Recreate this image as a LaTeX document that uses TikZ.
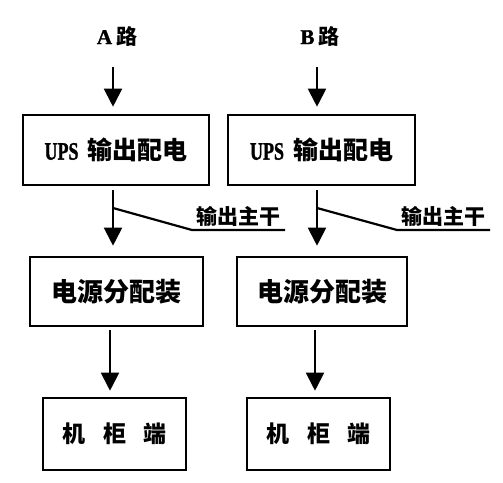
\documentclass[tikz,border=0pt]{standalone}
\usepackage{fontspec}
\setmainfont{Noto Sans CJK SC}
\newfontfamily\latinserif{Liberation Serif}
\newfontfamily\upsfont{Liberation Serif}[UprightFont=* Bold, FakeBold=1.5]
\usetikzlibrary{arrows.meta,calc}
\newcommand{\upslabel}{\scalebox{0.72}[1]{\upsfont\fontsize{25}{28}\selectfont UPS}\hspace{9pt}{\fontsize{25}{28}\selectfont 输出配电}}
\begin{document}
\begin{tikzpicture}[x=1pt,y=-1pt,
  box/.style={draw=black,line width=2.6pt,inner sep=0pt,font=\bfseries\fontsize{26}{29}\selectfont},
  arr/.style={line width=2pt,-{Triangle[width=18pt,length=18pt]}},
  head/.style={font=\bfseries\fontsize{21}{24}\selectfont,inner sep=0pt},
  lbl/.style={font=\bfseries\fontsize{21}{24}\selectfont,inner sep=0pt,anchor=south},
  trunk/.style={line width=2.2pt}]
\useasboundingbox[fill=white] (0,0) rectangle (503,482);
% headings
\node[head] (ha) at (117,36) {{\upsfont A}\hspace{4pt}路};
\node[head] (hb) at (320,36) {{\upsfont B}\hspace{4pt}路};
% boxes
\node[box,minimum width=186pt,minimum height=70pt] (upsa) at (116,150) {\upslabel};
\node[box,minimum width=187pt,minimum height=70pt] (upsb) at (321.5,150) {\upslabel};
\node[box,minimum width=173pt,minimum height=69pt] (pdua) at (116.5,291.5) {电源分配装};
\node[box,minimum width=170pt,minimum height=69pt] (pdub) at (322,291.5) {电源分配装};
\node[box,minimum width=143pt,minimum height=72pt,font=\bfseries\fontsize{23}{26}\selectfont] (caba) at (114.5,434) {机\hspace{0.75em}柜\hspace{0.75em}端};
\node[box,minimum width=143pt,minimum height=72pt,font=\bfseries\fontsize{23}{26}\selectfont] (cabb) at (318.5,434) {机\hspace{0.75em}柜\hspace{0.75em}端};
% top arrows
\coordinate (ta) at (113,67);
\coordinate (tb) at (317,67);
\draw[arr,shorten >=7pt] (ta) -- (ta |- upsa.north);
\draw[arr,shorten >=7pt] (tb) -- (tb |- upsb.north);
% middle arrows
\coordinate (ma) at (113,190);
\coordinate (mb) at (317,190);
\draw[arr,shorten >=10pt] (ma) -- (ma |- pdua.north);
\draw[arr,shorten >=10pt] (mb) -- (mb |- pdub.north);
% trunk branches
\coordinate (ja) at (113,208);
\coordinate (ka) at (192,230);
\coordinate (ea) at (285,230);
\coordinate (jb) at (317,208);
\coordinate (kb) at (397,230);
\coordinate (eb) at (490,230);
\draw[trunk] (ja) -- (ka) -- (ea);
\draw[trunk] (jb) -- (kb) -- (eb);
\node[lbl] (la) at ($(ka)!0.5!(ea)+(0,-3)$) {输出主干};
\node[lbl] (lb) at ($(kb)!0.5!(eb)+(0,-3)$) {输出主干};
% bottom arrows
\coordinate (ba) at (110,330);
\coordinate (bb) at (315,330);
\draw[arr,shorten >=6pt] (ba) -- (ba |- caba.north);
\draw[arr,shorten >=6pt] (bb) -- (bb |- cabb.north);
\end{tikzpicture}
\end{document}
